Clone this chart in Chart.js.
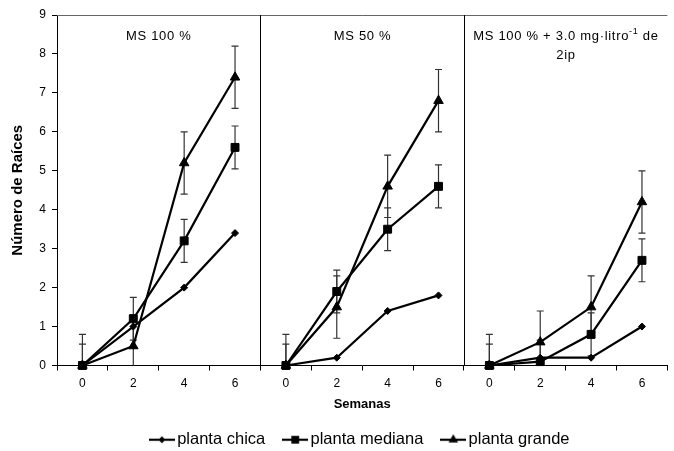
<!DOCTYPE html>
<html>
<head>
<meta charset="utf-8">
<script src="https://cdn.jsdelivr.net/npm/chart.js@4.4.0/dist/chart.umd.min.js"></script>
<style>
  html, body { margin: 0; padding: 0; background: #fff; }
</style>
</head>
<body>
<canvas id="chart" width="674" height="451"></canvas>
<script>
const FONT = 'Arial, "Liberation Sans", sans-serif';

// semanas, three panels side by side
const weeks = ['0', '2', '4', '6', '0', '2', '4', '6', '0', '2', '4', '6'];
const panelTitles = ['MS 100 %', 'MS 50 %', 'MS 100 % + 3.0 mg·litro'];

const chica   = [0, 1.0, 2.0, 3.4,  0, 0.2, 1.4, 1.8,  0, 0.2, 0.2, 1.0];
const mediana = [0, 1.2, 3.2, 5.6,  0, 1.9, 3.5, 4.6,  0, 0.1, 0.8, 2.7];
const grande  = [0, 0.5, 5.2, 7.4,  0, 1.5, 4.6, 6.8,  0, 0.6, 1.5, 4.2];

const errMediana = [0.55, 0.55, 0.55, 0.55,  0.55, 0.55, 0.55, 0.55,  0.55, 0.55, 0.55, 0.55];
const errGrande  = [0.8, 0.8, 0.8, 0.8,  0.8, 0.8, 0.8, 0.8,  0.8, 0.8, 0.8, 0.8];

// break the line between panels
const gap = ctx => (ctx.p0DataIndex === 3 || ctx.p0DataIndex === 7) ? 'transparent' : undefined;

function makeSeries(label, data, style, radius, errors) {
  return {
    label: label,
    data: data,
    errors: errors,
    borderColor: '#000',
    backgroundColor: '#000',
    borderWidth: 2.2,
    pointStyle: style,
    pointRadius: radius,
    pointBorderWidth: 1,
    pointBackgroundColor: '#000',
    pointBorderColor: '#000',
    tension: 0,
    clip: false,
    segment: { borderColor: gap }
  };
}

function legendIcon(style, r) {
  const c = document.createElement('canvas');
  c.width = 26; c.height = 12;
  const g = c.getContext('2d');
  g.strokeStyle = '#000'; g.fillStyle = '#000'; g.lineWidth = 2.2;
  g.beginPath(); g.moveTo(0, 6); g.lineTo(26, 6); g.stroke();
  g.beginPath();
  if (style === 'rectRot') {
    g.moveTo(13, 6 - r); g.lineTo(13 + r, 6); g.lineTo(13, 6 + r); g.lineTo(13 - r, 6);
  } else if (style === 'rect') {
    const s = r * Math.SQRT1_2;
    g.rect(13 - s, 6 - s, 2 * s, 2 * s);
  } else {
    const w = r * 0.866;
    g.moveTo(13, 6 - r); g.lineTo(13 + w, 6 + r / 2); g.lineTo(13 - w, 6 + r / 2);
  }
  g.closePath(); g.fill();
  return c;
}

const panelPlugin = {
  id: 'panels',
  beforeDatasetsDraw(chart) {
    const ctx = chart.ctx, xs = chart.scales.x, ys = chart.scales.y, a = chart.chartArea;
    ctx.save();
    ctx.beginPath(); ctx.rect(a.left, a.top, a.right - a.left, a.bottom - a.top); ctx.clip();
    ctx.strokeStyle = '#333'; ctx.lineWidth = 1.2;
    chart.data.datasets.forEach(ds => {
      if (!ds.errors) return;
      ds.data.forEach((v, i) => {
        const x = xs.getPixelForValue(i);
        const hi = ys.getPixelForValue(v + ds.errors[i]);
        const lo = ys.getPixelForValue(v - ds.errors[i]);
        ctx.beginPath();
        ctx.moveTo(x, hi); ctx.lineTo(x, lo);
        ctx.moveTo(x - 3.5, hi); ctx.lineTo(x + 3.5, hi);
        ctx.moveTo(x - 3.5, lo); ctx.lineTo(x + 3.5, lo);
        ctx.stroke();
      });
    });
    ctx.restore();
  },
  afterDraw(chart) {
    const ctx = chart.ctx, xs = chart.scales.x, a = chart.chartArea;
    ctx.save();
    // top frame line
    ctx.strokeStyle = '#666'; ctx.lineWidth = 1;
    ctx.beginPath(); ctx.moveTo(a.left, a.top + 0.5); ctx.lineTo(a.right, a.top + 0.5); ctx.stroke();
    // panel dividers
    ctx.strokeStyle = '#000';
    const bounds = [a.left];
    [3, 7].forEach(i => {
      const x = Math.round((xs.getPixelForValue(i) + xs.getPixelForValue(i + 1)) / 2) + 0.5;
      bounds.push(x);
      ctx.beginPath(); ctx.moveTo(x, a.top); ctx.lineTo(x, a.bottom); ctx.stroke();
    });
    bounds.push(a.right);
    // panel titles
    ctx.fillStyle = '#000';
    ctx.textBaseline = 'middle';
    ctx.letterSpacing = '0.7px';
    ctx.font = '13px ' + FONT;
    ctx.textAlign = 'center';
    ctx.fillText(panelTitles[0], (bounds[0] + bounds[1]) / 2, 36);
    ctx.fillText(panelTitles[1], (bounds[1] + bounds[2]) / 2, 36);
    // third title with superscript
    const cx = (bounds[2] + bounds[3]) / 2;
    const t1 = panelTitles[2], sup = '-1', t2 = ' de';
    ctx.font = '13px ' + FONT;
    const w1 = ctx.measureText(t1).width, w3 = ctx.measureText(t2).width;
    ctx.font = '9px ' + FONT;
    const w2 = ctx.measureText(sup).width;
    let x = cx - (w1 + w2 + w3) / 2;
    ctx.textAlign = 'left';
    ctx.font = '13px ' + FONT;
    ctx.fillText(t1, x, 36); x += w1;
    ctx.font = '9px ' + FONT;
    ctx.fillText(sup, x, 32); x += w2;
    ctx.font = '13px ' + FONT;
    ctx.fillText(t2, x, 36);
    ctx.textAlign = 'center';
    ctx.fillText('2ip', cx, 55);
    ctx.restore();
  }
};

const icons = [legendIcon('rectRot', 3.5), legendIcon('rect', 5.5), legendIcon('triangle', 5.5)];

new Chart(document.getElementById('chart'), {
  type: 'line',
  data: {
    labels: weeks,
    datasets: [
      makeSeries('planta chica', chica, 'rectRot', 3.5, null),
      makeSeries('planta mediana', mediana, 'rect', 5.6, errMediana),
      makeSeries('planta grande', grande, 'triangle', 5.5, errGrande)
    ]
  },
  options: {
    responsive: false,
    animation: false,
    layout: { padding: { top: 15, right: 0, left: 0, bottom: -7 } },
    plugins: {
      tooltip: { enabled: false },
      legend: {
        position: 'bottom',
        fullSize: false,
        labels: {
          color: '#000',
          font: { family: FONT, size: 16.5 },
          usePointStyle: true,
          pointStyleWidth: 14,
          padding: 23,
          generateLabels: chart => chart.data.datasets.map((ds, i) => ({
            text: ds.label,
            pointStyle: icons[i],
            datasetIndex: i,
            fontColor: '#000',
            lineWidth: 0
          }))
        }
      }
    },
    scales: {
      x: {
        type: 'category',
        offset: true,
        grid: { display: true, drawOnChartArea: false, offset: true, tickLength: 5, color: '#000' },
        border: { color: '#000', width: 1 },
        ticks: { color: '#000', font: { family: FONT, size: 12 }, padding: 6, maxRotation: 0, autoSkip: false },
        title: { display: true, text: 'Semanas', color: '#000', font: { family: FONT, size: 13, weight: 'bold' }, padding: { top: 0, bottom: -4 } }
      },
      y: {
        min: 0,
        max: 9,
        ticks: { stepSize: 1, color: '#000', font: { family: FONT, size: 12 }, padding: 6 },
        grid: { display: true, drawOnChartArea: false, tickLength: 5, color: '#000' },
        border: { color: '#000', width: 1 },
        title: { display: true, text: 'Número de Raíces', color: '#000', font: { family: FONT, size: 15, weight: 'bold' }, padding: { top: 9, bottom: 0 } },
        afterFit: s => { s.width = 57; }
      }
    }
  },
  plugins: [panelPlugin]
});
</script>
</body>
</html>
